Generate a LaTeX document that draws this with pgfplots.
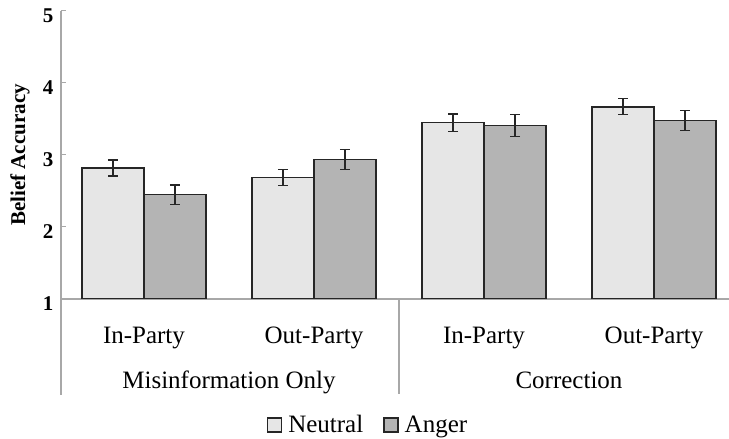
\documentclass[border=0pt]{standalone}
\usepackage{pgfplots}
\pgfplotsset{compat=1.18}
\usepackage{pgfplotstable}
\usepackage{fontspec}
\setmainfont{Liberation Serif}
\definecolor{neutralc}{HTML}{E6E6E6}
\definecolor{angerc}{HTML}{B4B4B4}
\definecolor{axgray}{HTML}{A8A8A8}
\definecolor{edgec}{HTML}{262626}

\pgfplotstableread{
x y err
0 2.82 0.11
1 2.69 0.11
2 3.45 0.12
3 3.67 0.11
}\neutraldata
\pgfplotstableread{
x y err
0 2.45 0.135
1 2.94 0.14
2 3.41 0.155
3 3.48 0.135
}\angerdata

\begin{document}
\begin{tikzpicture}
\begin{axis}[
  name=ax,
  scale only axis,
  width=668bp, height=288bp,
  xmin=-0.488, xmax=3.441,
  ymin=1, ymax=5,
  enlargelimits=false,
  ybar=0pt,
  bar width=62bp,
  axis x line=bottom,
  axis y line=left,
  axis line style={-, draw=axgray, line width=1.3bp},
  /pgf/number format/assume math mode=true,
  xtick={0,1,2,3},
  xticklabels={In-Party,Out-Party,In-Party,Out-Party},
  xtick style={draw=none},
  xticklabel style={anchor=base, yshift=-45bp, font=\fontsize{25bp}{30bp}\selectfont},
  ytick={1,2,3,4,5},
  ytick style={draw=axgray, line width=1bp},
  tick align=inside,
  major tick length=5bp,
  yticklabel style={anchor=east, xshift=-4bp, yshift=-5bp, font=\fontsize{21bp}{25bp}\selectfont\bfseries},
  ylabel={Belief Accuracy},
  ylabel style={at={(axis description cs:0,0.5)}, anchor=center, yshift=41bp, font=\fontsize{21bp}{25bp}\selectfont\bfseries},
  legend columns=2,
  legend style={at={(axis description cs:0.4596,-0.4375)}, anchor=center, draw=none, fill=none,
    font=\fontsize{25bp}{30bp}\selectfont,
    /tikz/every odd column/.append style={column sep=4bp},
    /tikz/every even column/.append style={column sep=18bp}},
  legend image code/.code={\draw[#1, line width=1.5bp] (0bp,-7bp) rectangle (14bp,7bp);},
]
\addplot[fill=neutralc, draw=edgec, line width=1.6bp,
  error bars/.cd, y dir=both, y explicit,
  error bar style={line width=1.3bp, draw=edgec},
  error mark options={rotate=90, mark size=5bp, line width=1.3bp, draw=edgec}]
  table[x=x, y=y, y error=err] {\neutraldata};
\addlegendentry{Neutral}
\addplot[fill=angerc, draw=edgec, line width=1.6bp,
  error bars/.cd, y dir=both, y explicit,
  error bar style={line width=1.3bp, draw=edgec},
  error mark options={rotate=90, mark size=5bp, line width=1.3bp, draw=edgec}]
  table[x=x, y=y, y error=err] {\angerdata};
\addlegendentry{Anger}
\coordinate (g1) at (axis cs:0.5,1);
\coordinate (g2) at (axis cs:2.5,1);
\coordinate (sep) at (axis cs:1.5,1);
\coordinate (left) at (axis cs:-0.488,1);
\end{axis}
\draw[axgray, line width=1.3bp] (left) -- ++(0,-96bp);
\draw[axgray, line width=1.3bp] (sep) -- ++(0,-95bp);
\node[anchor=base, inner sep=0pt, font=\fontsize{25bp}{30bp}\selectfont] at ([yshift=-90bp]g1) {Misinformation Only};
\node[anchor=base, inner sep=0pt, font=\fontsize{25bp}{30bp}\selectfont] at ([yshift=-90bp]g2) {Correction};
\pgfresetboundingbox
\path ([xshift=-61bp,yshift=-140bp]ax.south west) rectangle ([yshift=11bp]ax.north east);
\end{tikzpicture}
\end{document}
